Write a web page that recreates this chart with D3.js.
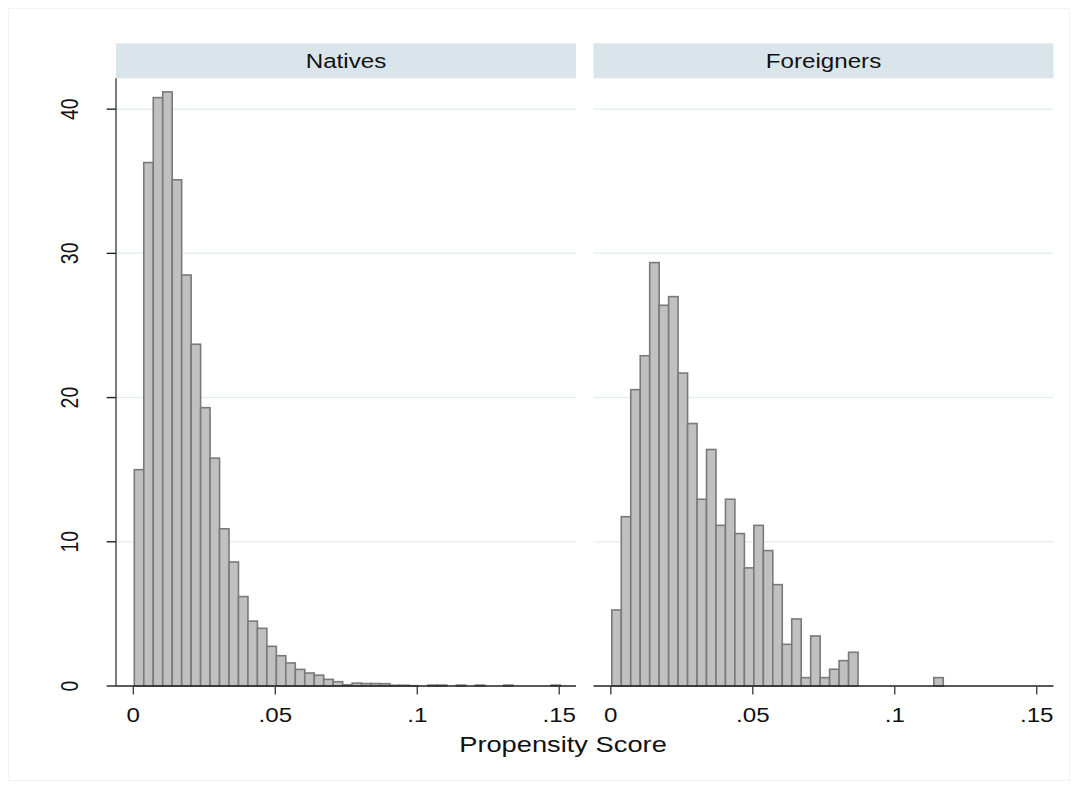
<!DOCTYPE html>
<html>
<head>
<meta charset="utf-8">
<script src="https://cdn.jsdelivr.net/npm/d3@7"></script>
<style>
  html, body { margin: 0; padding: 0; background: #ffffff; }
  svg { display: block; }
  text { font-family: "Liberation Sans", Arial, Helvetica, sans-serif; fill: #111; }
</style>
</head>
<body>
<svg id="chart" width="1078" height="789"></svg>
<script>
// ---------------- data ----------------
const panels = ["Natives", "Foreigners"];
const binStart = 0.00035;
const binWidth = 0.003335;
const nativesDensity = [
  15.0, 36.3, 40.8, 41.2, 35.1, 28.5, 23.7, 19.3, 15.8, 10.9,
  8.6, 6.2, 4.5, 4.0, 2.75, 2.1, 1.6, 1.15, 0.9, 0.75,
  0.46, 0.3, 0.08, 0.2, 0.17, 0.17, 0.16, 0.05, 0.05, 0.02,
  0, 0.06, 0.06, 0, 0.06, 0, 0.06, 0, 0, 0.06,
  0, 0, 0, 0, 0.06
];
const foreignersDensity = [
  5.27, 11.74, 20.55, 22.9, 29.36, 26.4, 27.0, 21.7, 18.2, 12.95,
  16.4, 11.14, 12.95, 10.57, 8.19, 11.14, 9.39, 7.03, 2.89, 4.65,
  0.58, 3.47, 0.58, 1.16, 1.76, 2.34, 0, 0, 0, 0,
  0, 0, 0, 0, 0.58
];
const xTicks = [0, 0.05, 0.1, 0.15];
const xTickLabels = ["0", ".05", ".1", ".15"];
const yTicks = [0, 10, 20, 30, 40];
const yTickLabels = ["0", "10", "20", "30", "40"];
const xTitle = "Propensity Score";
const seriesByPanel = [nativesDensity, foreignersDensity];

// ---------------- layout ----------------
const SX = 1.24;              // horizontal text stretch of the original
const panelLeft = [116, 593.5];
const panelW = 460;
const plotTop = 78.3, plotBottom = 686;
const stripTop = 43.3, stripBottom = 78.3;

const svg = d3.select("#chart");

// faint outer frame
svg.append("rect").attr("x", 8.5).attr("y", 8.5).attr("width", 1061).attr("height", 772)
  .attr("fill", "none").attr("stroke", "#f3f3f3").attr("stroke-width", 1);

const y = d3.scaleLinear().domain([0, 42.14]).range([plotBottom, plotTop]);

function stretchedText(g, x, yy, str, size, anchor) {
  return g.append("text")
    .attr("transform", `translate(${x},${yy}) scale(${SX},1)`)
    .attr("text-anchor", anchor || "middle")
    .style("font-size", size + "px")
    .text(str);
}

panels.forEach((name, p) => {
  const x0 = panelLeft[p];
  const x = d3.scaleLinear().domain([-0.0061, 0.1559]).range([x0, x0 + panelW]);
  const g = svg.append("g");

  // strip
  g.append("rect").attr("x", x0).attr("y", stripTop)
    .attr("width", panelW).attr("height", stripBottom - stripTop)
    .attr("fill", "#d9e5eb");
  stretchedText(g, x0 + panelW / 2, 68.3, name, 19.5);

  // gridlines
  g.selectAll("line.grid").data(yTicks.filter(d => d > 0)).join("line")
    .attr("class", "grid")
    .attr("x1", x0).attr("x2", x0 + panelW)
    .attr("y1", d => y(d)).attr("y2", d => y(d))
    .attr("stroke", "#e6f0f2").attr("stroke-width", 1.5);

  // bars
  const data = seriesByPanel[p].map((v, i) => ({ i, v })).filter(d => d.v > 0);
  g.selectAll("rect.bar").data(data).join("rect")
    .attr("class", "bar")
    .attr("x", d => x(binStart + d.i * binWidth))
    .attr("width", d => x(binStart + (d.i + 1) * binWidth) - x(binStart + d.i * binWidth))
    .attr("y", d => y(d.v))
    .attr("height", d => y(0) - y(d.v))
    .attr("fill", "#c0c0c0")
    .attr("stroke", "#7a7a7a")
    .attr("stroke-width", 1.6);

  // x axis
  g.append("line").attr("x1", x0).attr("x2", x0 + panelW)
    .attr("y1", plotBottom).attr("y2", plotBottom)
    .attr("stroke", "#222").attr("stroke-width", 1.4);
  g.selectAll("line.xtick").data(xTicks).join("line")
    .attr("class", "xtick")
    .attr("x1", d => x(d)).attr("x2", d => x(d))
    .attr("y1", plotBottom).attr("y2", plotBottom + 8.5)
    .attr("stroke", "#444").attr("stroke-width", 1.4);
  xTicks.forEach((t, i) => stretchedText(g, x(t), 722.3, xTickLabels[i], 19.5));

  // y axis (left panel only)
  if (p === 0) {
    g.append("line").attr("x1", x0).attr("x2", x0)
      .attr("y1", plotTop).attr("y2", plotBottom)
      .attr("stroke", "#444").attr("stroke-width", 1.4);
    g.selectAll("line.ytick").data(yTicks).join("line")
      .attr("class", "ytick")
      .attr("x1", x0 - 9.3).attr("x2", x0)
      .attr("y1", d => y(d)).attr("y2", d => y(d))
      .attr("stroke", "#222").attr("stroke-width", 1.4);
    yTicks.forEach((t, i) => {
      g.append("text")
        .attr("transform", `translate(78.3,${y(t)}) scale(${SX},1) rotate(-90)`)
        .attr("text-anchor", "middle")
        .style("font-size", "19.5px")
        .text(yTickLabels[i]);
    });
  }
});

// x axis title
stretchedText(svg, 563, 752, xTitle, 22);
</script>
</body>
</html>
